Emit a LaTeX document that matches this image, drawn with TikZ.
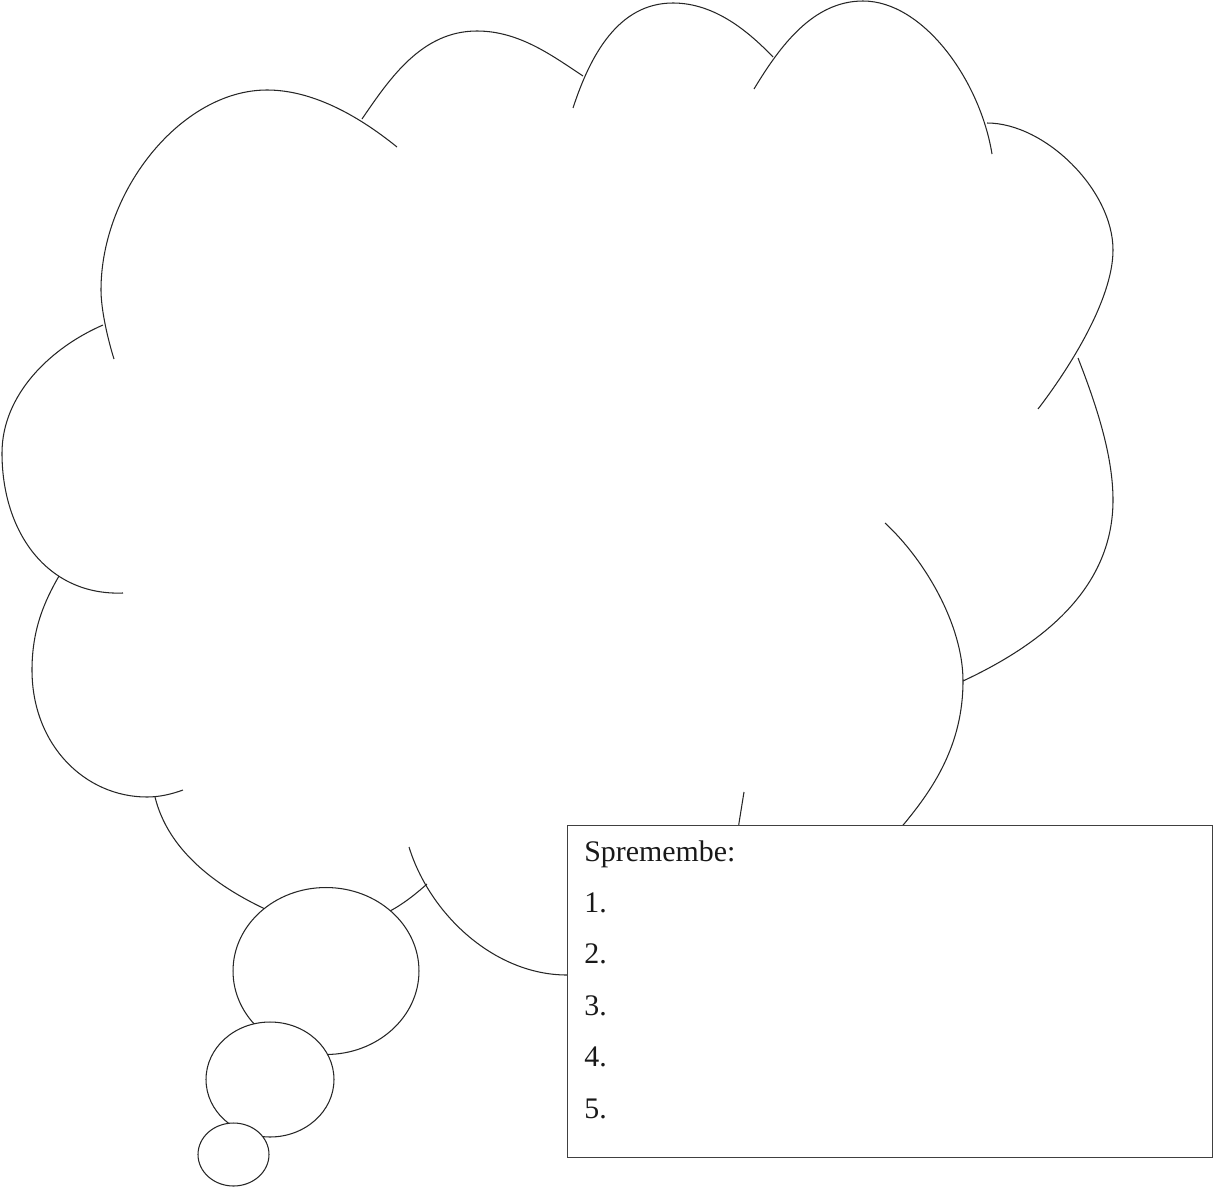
\documentclass[tikz,border=0pt]{standalone}
\usepackage{fontspec}
\setmainfont{Liberation Serif}
\usetikzlibrary{positioning,shapes.geometric}

\begin{document}
\begin{tikzpicture}[x=0.02cm, y=-0.02cm,
          lobe/.style={draw=black!85, line width=0.6pt},
          bubble/.style={ellipse, draw=black!85, line width=0.6pt,
              fill=white, inner sep=0pt},
          notebox/.style={rectangle, draw=black!75, line width=0.8pt,
              fill=white, minimum width=12.9cm, minimum height=6.64cm,
              anchor=north west},
          entry/.style={anchor=base west, inner sep=0pt,
              font=\fontsize{17}{20}\selectfont, text=black!90}
        ]
        \useasboundingbox (0,0) rectangle (1214,1190);
        % cloud lobes
        \draw[lobe] (103,325) .. controls (50,348) and (2,395) .. (2,453)
                              .. controls (2,533) and (48,596) .. (123,593);
        \draw[lobe] (114,359) .. controls (108,340) and (101,310) .. (101,290)
                              .. controls (101,190) and (182,90) .. (267,90)
                              .. controls (310,90) and (355,113) .. (397,147);
        \draw[lobe] (362,119) .. controls (390,78) and (422,31) .. (477,31)
                              .. controls (520,31) and (554,57) .. (583,76);
        \draw[lobe] (573,108) .. controls (590,56) and (618,3) .. (673,3)
                              .. controls (715,3) and (749,32) .. (773,57);
        \draw[lobe] (754,89) .. controls (780,46) and (813,1) .. (863,1)
                             .. controls (923,1) and (980,80) .. (992,154);
        \draw[lobe] (987,123) .. controls (1045,123) and (1113,190) .. (1113,250)
                              .. controls (1113,300) and (1068,370) .. (1038,409);
        \draw[lobe] (1078,358) .. controls (1096,404) and (1113,455) .. (1113,500)
                               .. controls (1113,590) and (1040,645) .. (963,681);
        \draw[lobe] (885,523) .. controls (925,560) and (963,625) .. (963,681)
                              .. controls (963,745) and (933,789) .. (904,824) -- (890,840);
        \draw[lobe] (744,792) -- (739,823) -- (737,840);
        \draw[lobe] (409,847) .. controls (430,915) and (495,975) .. (567,975) -- (600,978);
        \draw[lobe] (59,576) .. controls (44,602) and (32,630) .. (32,670)
                             .. controls (32,745) and (85,797) .. (147,797)
                             .. controls (160,797) and (172,794) .. (183,790);
        \draw[lobe] (155,797) .. controls (168,850) and (215,885) .. (263,908)
                              .. controls (290,925) and (360,930) .. (390,911)
                              .. controls (405,903) and (418,892) .. (427,884);
        % thought bubbles
        \node[bubble, minimum width=3.72cm, minimum height=3.34cm] (bigbub) at (326,971) {};
        \node[bubble, minimum width=2.56cm, minimum height=2.3cm] (midbub) at (270,1079.5) {};
        \node[bubble, minimum width=1.42cm, minimum height=1.26cm] (smallbub) at (233.5,1154.5) {};
        % list box
        \node[notebox] (notes) at (567,825) {};
        \node[entry] (title) at (584,861) {Spremembe:};
        \foreach \n in {1,...,5}
          \node[entry] (item\n) at (584,{861+51.4*\n}) {\n.};
      \end{tikzpicture}
\end{document}
